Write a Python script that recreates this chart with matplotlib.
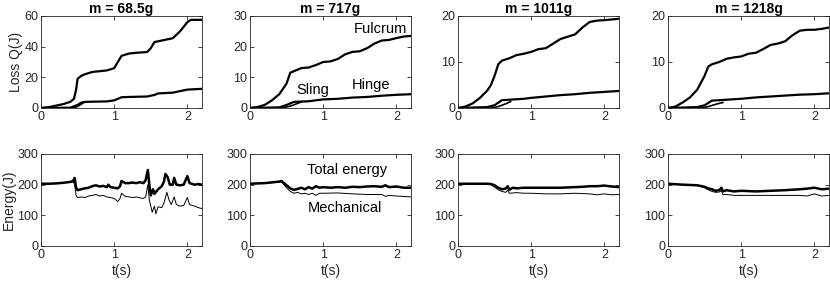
"""
Heat loss at the joints and energy balance for four counterweight masses.
Top row: cumulative loss Q per location, bottom row: total vs. mechanical energy.
"""

import matplotlib.pyplot as plt

plt.rcParams["font.family"] = ["Liberation Sans", "DejaVu Sans"]
plt.rcParams["font.size"] = 9

titles = ["m = 68.5g", "m = 717g", "m = 1011g", "m = 1218g"]
loss_ylim = [60, 30, 20, 20]
loss_yticks = [[0, 20, 40, 60], [0, 10, 20, 30], [0, 10, 20], [0, 10, 20]]

# ---- loss curves (t, Q) ----
fulcrum_t = [
    [0, 0.1, 0.2, 0.3, 0.4, 0.45, 0.48, 0.5, 0.55, 0.6, 0.7, 0.8, 0.9, 1.0, 1.05, 1.1,
     1.2, 1.3, 1.45, 1.5, 1.55, 1.65, 1.8, 1.9, 2.0, 2.05, 2.2],
    [0, 0.1, 0.2, 0.3, 0.4, 0.5, 0.55, 0.6, 0.7, 0.8, 0.9, 1.0, 1.1, 1.2, 1.3, 1.4, 1.5,
     1.6, 1.7, 1.8, 1.9, 2.0, 2.1, 2.2],
    [0, 0.1, 0.2, 0.3, 0.4, 0.45, 0.5, 0.55, 0.6, 0.7, 0.8, 0.9, 1.0, 1.1, 1.2, 1.3, 1.4,
     1.5, 1.6, 1.7, 1.8, 1.9, 2.0, 2.2],
    [0, 0.1, 0.2, 0.3, 0.4, 0.5, 0.55, 0.6, 0.7, 0.8, 0.9, 1.0, 1.1, 1.2, 1.3, 1.4, 1.5,
     1.6, 1.7, 1.8, 1.9, 2.0, 2.1, 2.2],
]
fulcrum_q = [
    [0, 0.5, 1.5, 2.5, 4, 6, 12, 19, 21, 22, 23.5, 24, 24.5, 26, 30, 34,
     35.5, 36, 36.5, 39, 43, 44, 45.5, 50, 56, 57.5, 57.5],
    [0, 0.3, 1, 2.5, 4.5, 8, 11.5, 12, 13, 13.2, 14, 15, 15.2, 16, 17.5, 18.3, 18.5,
     19.5, 21, 22, 22.2, 22.8, 23.3, 23.5],
    [0, 0.3, 1, 2.2, 3.8, 5, 7, 9.5, 10.3, 10.8, 11.5, 11.8, 12.2, 12.8, 13, 14, 15,
     15.5, 16, 17.5, 18.7, 19, 19.1, 19.4],
    [0, 0.3, 1.2, 2.3, 4, 7, 9, 9.5, 10, 10.7, 11, 11.2, 11.8, 12, 12.8, 13.7, 14,
     14.5, 15.8, 16.8, 17, 17, 17.2, 17.5],
]
hinge_t = [
    [0, 0.4, 0.5, 0.55, 0.6, 0.9, 1.0, 1.1, 1.2, 1.45, 1.55, 1.6, 1.8, 1.9, 2.0, 2.2],
    [0, 0.4, 0.5, 0.6, 0.8, 1.0, 1.2, 1.4, 1.6, 1.8, 2.0, 2.2],
    [0, 0.4, 0.5, 0.6, 0.8, 0.9, 1.0, 1.2, 1.4, 1.6, 1.8, 2.0, 2.2],
    [0, 0.4, 0.5, 0.6, 0.8, 1.0, 1.2, 1.4, 1.6, 1.8, 2.0, 2.2],
]
hinge_q = [
    [0, 0.2, 2, 3.5, 4, 4.3, 5, 7, 7.2, 7.5, 8.5, 9.5, 10, 11, 12, 12.5],
    [0, 0.2, 1, 2, 2.2, 2.8, 3.0, 3.4, 3.6, 4.0, 4.3, 4.5],
    [0, 0.2, 0.6, 1.7, 1.9, 2.0, 2.2, 2.5, 2.8, 3.0, 3.3, 3.5, 3.7],
    [0, 0.2, 0.6, 1.6, 1.8, 2.0, 2.3, 2.5, 2.7, 2.9, 3.0, 3.2],
]
sling_t = [
    [0, 0.45, 0.5, 0.55, 0.6],
    [0, 0.45, 0.55, 0.65, 0.7],
    [0, 0.45, 0.55, 0.65, 0.72],
    [0, 0.45, 0.55, 0.65, 0.75],
]
sling_q = [
    [0, 0, 1, 2.5, 4],
    [0, 0.1, 0.6, 1.5, 2],
    [0, 0, 0.3, 0.9, 1.4],
    [0, 0, 0.3, 0.8, 1.2],
]

# ---- energy curves (t, E) ----
total_t = [
    [0, 0.1, 0.2, 0.3, 0.4, 0.44, 0.46, 0.48, 0.5, 0.55, 0.6, 0.65, 0.7, 0.75, 0.8, 0.85,
     0.9, 0.92, 0.95, 1.0, 1.05, 1.08, 1.1, 1.15, 1.2, 1.25, 1.3, 1.35, 1.4, 1.43, 1.46,
     1.48, 1.5, 1.53, 1.55, 1.6, 1.65, 1.68, 1.7, 1.73, 1.76, 1.8, 1.82, 1.85, 1.9, 1.95,
     2.0, 2.03, 2.1, 2.15, 2.2],
    [0, 0.2, 0.4, 0.43, 0.5, 0.55, 0.6, 0.65, 0.7, 0.75, 0.8, 0.85, 0.9, 0.95, 1.0, 1.1,
     1.2, 1.3, 1.4, 1.5, 1.6, 1.7, 1.8, 1.85, 1.9, 2.0, 2.1, 2.2],
    [0, 0.2, 0.4, 0.45, 0.5, 0.55, 0.6, 0.65, 0.68, 0.7, 0.75, 0.8, 0.9, 1.0, 1.2, 1.4,
     1.6, 1.7, 1.8, 1.9, 2.0, 2.1, 2.2],
    [0, 0.2, 0.4, 0.5, 0.55, 0.6, 0.65, 0.7, 0.73, 0.75, 0.8, 0.9, 1.0, 1.2, 1.4, 1.6,
     1.8, 1.9, 2.0, 2.1, 2.2],
]
total_e = [
    [203, 203, 204, 206, 209, 212, 222, 190, 182, 185, 188, 190, 195, 198, 194, 196,
     192, 200, 192, 190, 188, 195, 212, 205, 205, 207, 205, 208, 205, 215, 248,
     200, 165, 185, 170, 185, 195, 210, 235, 225, 200, 200, 222, 200, 198, 200,
     228, 205, 200, 202, 200],
    [203, 205, 210, 212, 198, 188, 183, 186, 190, 185, 192, 187, 195, 190, 192, 190,
     192, 190, 193, 192, 194, 195, 193, 198, 192, 194, 190, 190],
    [203, 203, 203, 202, 198, 190, 185, 187, 195, 183, 190, 188, 190, 190, 190, 190,
     192, 193, 195, 195, 197, 194, 192],
    [203, 200, 198, 193, 188, 185, 180, 182, 190, 178, 182, 178, 180, 178, 180, 182,
     185, 187, 190, 185, 187],
]
mech_t = [
    [0, 0.1, 0.2, 0.3, 0.4, 0.44, 0.46, 0.48, 0.5, 0.55, 0.6, 0.65, 0.7, 0.75, 0.8, 0.85,
     0.9, 0.95, 1.0, 1.05, 1.08, 1.1, 1.15, 1.2, 1.25, 1.3, 1.35, 1.4, 1.43, 1.46, 1.48,
     1.52, 1.55, 1.57, 1.6, 1.65, 1.68, 1.72, 1.75, 1.78, 1.82, 1.85, 1.9, 1.95, 2.0,
     2.03, 2.1, 2.15, 2.2],
    [0, 0.2, 0.4, 0.43, 0.5, 0.55, 0.6, 0.65, 0.7, 0.75, 0.8, 0.85, 0.9, 0.95, 1.0, 1.2,
     1.4, 1.6, 1.8, 1.85, 1.9, 2.0, 2.2],
    [0, 0.4, 0.45, 0.5, 0.55, 0.6, 0.65, 0.68, 0.7, 0.8, 0.9, 1.0, 1.2, 1.4, 1.6, 1.8,
     1.9, 2.0, 2.1, 2.2],
    [0, 0.2, 0.4, 0.5, 0.55, 0.6, 0.65, 0.7, 0.73, 0.75, 0.8, 0.9, 1.0, 1.2, 1.4, 1.6,
     1.8, 1.9, 2.0, 2.1, 2.2],
]
mech_e = [
    [203, 203, 204, 206, 208, 210, 200, 165, 158, 160, 158, 163, 165, 168, 163, 165,
     160, 158, 155, 145, 155, 172, 162, 160, 158, 160, 157, 155, 160, 200, 150,
     110, 130, 105, 128, 125, 140, 175, 150, 135, 160, 135, 130, 132, 158,
     135, 130, 125, 122],
    [203, 205, 208, 209, 190, 178, 172, 175, 170, 172, 168, 172, 165, 172, 172, 173,
     170, 168, 168, 162, 165, 163, 160],
    [203, 202, 200, 192, 183, 178, 175, 182, 172, 174, 172, 172, 170, 170, 172, 170,
     167, 170, 167, 168],
    [203, 200, 197, 190, 183, 178, 175, 176, 180, 168, 168, 165, 165, 165, 165, 165,
     165, 163, 170, 163, 165],
]

fig = plt.figure(figsize=(8.3, 2.83), dpi=100)
lefts = [41, 250, 458, 668]
W, H = 830, 283


def style(ax):
    ax.set_xlim(0, 2.2)
    ax.set_xticks([0, 1, 2])
    ax.tick_params(direction="in", top=True, right=True, length=3, width=0.6,
                   labelsize=9, pad=2, color="#262626", labelcolor="#262626")
    for s in ax.spines.values():
        s.set_linewidth(0.6)
        s.set_color("#262626")


for i in range(4):
    x0 = lefts[i] / W
    w = 161 / W
    ax = fig.add_axes([x0, 1 - 108 / H, w, 92 / H])
    ax.plot(fulcrum_t[i], fulcrum_q[i], color="k", lw=1.6)
    ax.plot(hinge_t[i], hinge_q[i], color="k", lw=1.6)
    ax.plot(sling_t[i], sling_q[i], color="k", lw=1.2)
    ax.set_ylim(0, loss_ylim[i])
    ax.set_yticks(loss_yticks[i])
    ax.set_title(titles[i], fontsize=10, fontweight="bold", pad=2)
    style(ax)
    if i == 0:
        ax.set_ylabel("Loss Q(J)", fontsize=10, labelpad=1, color="#262626")
    if i == 1:
        ax.text(1.78, 25.8, "Fulcrum", ha="center", va="center", fontsize=10.5)
        ax.text(0.86, 5.9, "Sling", ha="center", va="center", fontsize=10.5)
        ax.text(1.66, 7.5, "Hinge", ha="center", va="center", fontsize=10.5)

    ax = fig.add_axes([x0, 1 - 246 / H, w, 92 / H])
    ax.plot(total_t[i], total_e[i], color="k", lw=1.8)
    ax.plot(mech_t[i], mech_e[i], color="k", lw=0.7)
    ax.set_ylim(0, 300)
    ax.set_yticks([0, 100, 200, 300])
    ax.set_xlabel("t(s)", fontsize=10, labelpad=2, color="#262626")
    style(ax)
    if i == 0:
        ax.set_ylabel("Energy(J)", fontsize=10, labelpad=1, color="#262626")
    if i == 1:
        ax.text(1.33, 248, "Total energy", ha="center", va="center", fontsize=10.5)
        ax.text(1.30, 124, "Mechanical", ha="center", va="center", fontsize=10.5)

fig.savefig("out.png", dpi=100)
